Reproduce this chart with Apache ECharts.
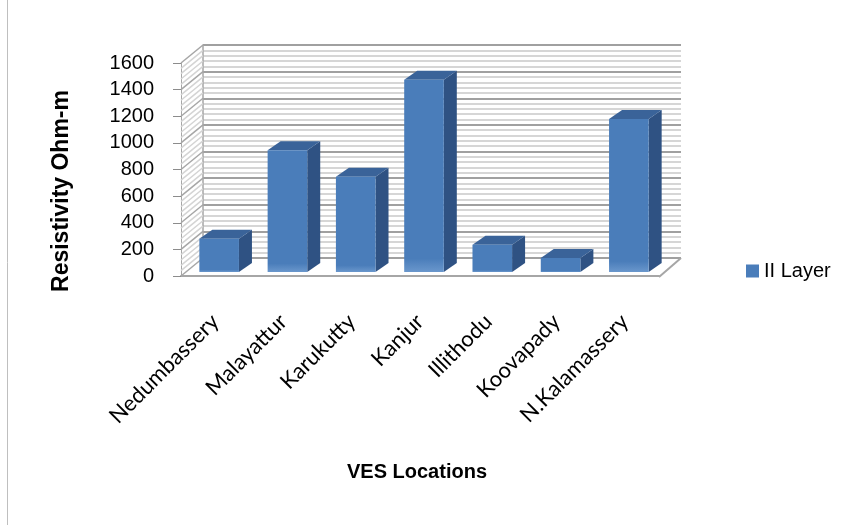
<!DOCTYPE html>
<html><head><meta charset="utf-8">
<script src="https://cdn.jsdelivr.net/npm/echarts@6/dist/echarts.min.js"></script>
<style>html,body{margin:0;padding:0;background:#fff}#c{width:844px;height:525px}</style>
</head><body><div id="c"></div>
<script>
const categories = ['Nedumbassery','Malayattur','Karukutty','Kanjur','Illithodu','Koovapady','N.Kalamassery'];
const layerII = [250, 915, 715, 1445, 205, 105, 1150];
const seriesName = 'II Layer';
const yMin = 0, yMax = 1600, yStep = 200;

const D = [22, -18];   // full wall depth
const F = [4, -4];     // bar front offset
const Bk = [17, -13];  // bar back offset

const chart = echarts.init(document.getElementById('c'));

function renderWalls(params, api) {
  const cs = params.coordSys;
  const children = [];
  const gx = cs.x, gr = cs.x + cs.width, gb = cs.y + cs.height;
  for (let v = yMin; v <= yMax; v += yStep / 5) {
    const y = api.coord([0, v])[1];
    const major = (v % yStep) === 0;
    children.push({type:'line', shape:{x1:gx, y1:y, x2:gx + D[0], y2:y + D[1]},
      style:{stroke: major ? '#a6a6a6' : '#d4d4d4', lineWidth: 1.5}});
  }
  children.push({type:'line', shape:{x1:gr, y1:gb + 1, x2:gr + D[0], y2:gb + D[1]},
    style:{stroke:'#a6a6a6', lineWidth:2}});
  return {type:'group', children};
}

function renderBar(params, api) {
  const i = api.value(0), v = api.value(1);
  const top = api.coord([i, v]);
  const base = api.coord([i, 0]);
  const bw = api.size([1, 0])[0] * 0.58;
  const x0 = top[0] - bw / 2 + F[0], x1 = top[0] + bw / 2 + F[0];
  const yT = top[1] + F[1], yB = base[1] + F[1];
  const dx = Bk[0] - F[0], dy = Bk[1] - F[1];
  return {type:'group', children:[
    {type:'polygon', shape:{points:[[x1,yB],[x1+dx,yB+dy],[x1+dx,yT+dy],[x1,yT]]}, style:{fill:'#2f5283'}},
    {type:'polygon', shape:{points:[[x0,yT],[x1,yT],[x1+dx,yT+dy],[x0+dx,yT+dy]]}, style:{fill:'#3a6399'}},
    {type:'rect', shape:{x:x0, y:yT, width:x1-x0, height:yB-yT},
      style:{fill:new echarts.graphic.LinearGradient(0,0,0,1,[
        {offset:0,color:'#4a7dba'},{offset:0.93,color:'#4a7dba'},{offset:1,color:'#6a97cc'}])}}
  ]};
}

chart.setOption({
  animation: false,
  backgroundColor: '#ffffff',
  textStyle: {fontFamily: 'Liberation Sans, Arial, sans-serif'},
  grid: [
    {left: 181, top: 63, width: 478, height: 213},
    {left: 203, top: 45, width: 478, height: 213}
  ],
  xAxis: [
    {gridIndex: 0, type: 'category', data: categories,
      axisLine: {show: true, lineStyle: {color: '#a6a6a6', width: 2}},
      axisTick: {show: false},
      axisLabel: {rotate: 45, margin: 42, fontSize: 22, fontFamily: 'Lato', color: '#000', interval: 0}},
    {gridIndex: 1, type: 'value', min: 0, max: 1, show: false}
  ],
  yAxis: [
    {gridIndex: 0, type: 'value', min: yMin, max: yMax, interval: yStep,
      axisLine: {show: true, lineStyle: {color: '#a6a6a6', width: 1}},
      axisTick: {show: true, length: 8, lineStyle: {color: '#8c8c8c'}},
      axisLabel: {margin: 27, fontSize: 20, color: '#000', fontFamily: 'Liberation Sans',
        formatter: v => String(v)},
      splitLine: {show: false}},
    {gridIndex: 1, type: 'value', min: yMin, max: yMax, interval: yStep,
      axisLine: {show: true, lineStyle: {color: '#a6a6a6', width: 1.5}},
      axisTick: {show: false}, axisLabel: {show: false},
      splitLine: {show: true, lineStyle: {color: '#a0a0a0', width: 2}},
      minorTick: {show: false, splitNumber: 5},
      minorSplitLine: {show: true, lineStyle: {color: '#d6d6d6', width: 2}}}
  ],
  legend: {
    data: [seriesName], left: 741, top: 256, icon: 'rect', itemWidth: 13, itemHeight: 13,
    itemGap: 8, textStyle: {fontSize: 20, color: '#000', fontFamily: 'Liberation Sans'}
  },
  series: [
    {type: 'custom', name: 'walls', xAxisIndex: 0, yAxisIndex: 0, clip: false, silent: true, z: 1,
      renderItem: renderWalls, data: [[0, 0]]},
    {type: 'custom', name: seriesName, xAxisIndex: 0, yAxisIndex: 0, clip: false, z: 3,
      itemStyle: {color: '#4a7dba'}, renderItem: renderBar,
      encode: {x: 0, y: 1},
      data: layerII.map((v, i) => [i, v])}
  ],
  graphic: [
    {type: 'text', x: 62, y: 191, rotation: Math.PI / 2,
      style: {text: 'Resistivity Ohm-m', fontSize: 23, fontWeight: 'bold', fontFamily: 'Liberation Sans',
        fill: '#000', align: 'center', verticalAlign: 'middle'}},
    {type: 'text', x: 417, y: 472,
      style: {text: 'VES Locations', fontSize: 20, fontWeight: 'bold', fontFamily: 'Liberation Sans',
        fill: '#000', align: 'center', verticalAlign: 'middle'}},
    {type: 'line', shape: {x1: 7.5, y1: 0, x2: 7.5, y2: 525}, style: {stroke: '#bfbfbf', lineWidth: 1}}
  ]
});
</script></body></html>
